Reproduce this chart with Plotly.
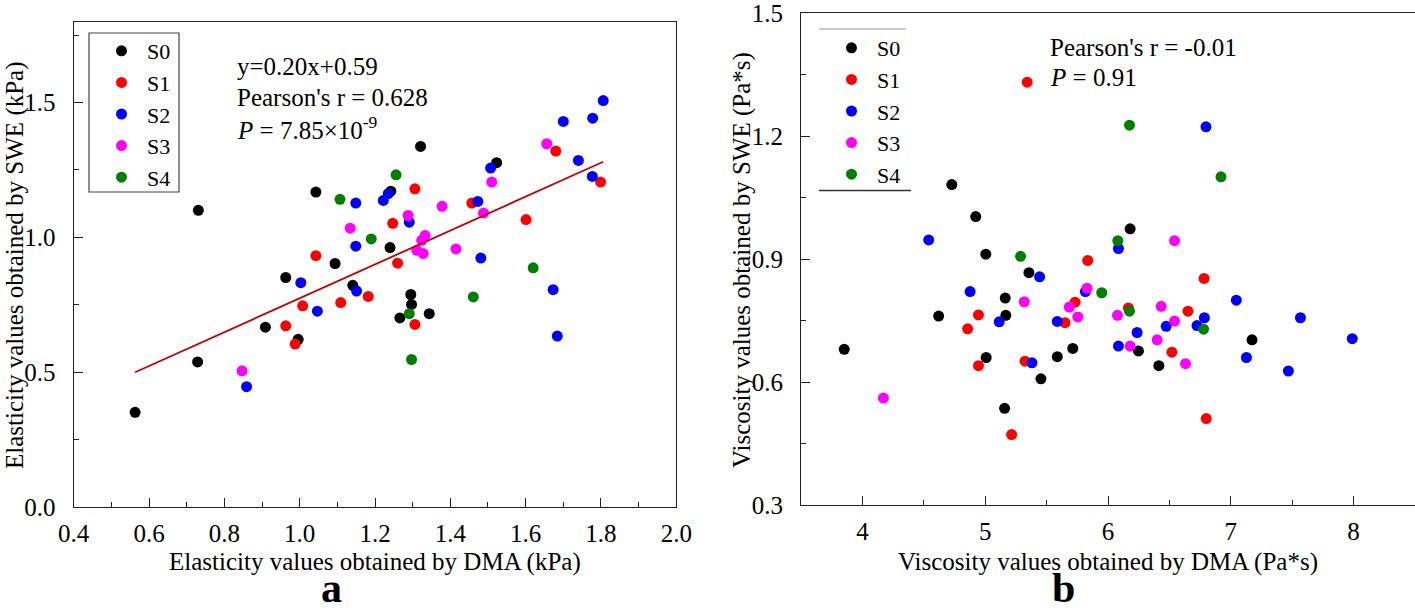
import numpy as np
import plotly.graph_objects as go

W, H = 1415, 610
FONT = "Liberation Serif"

series = ["S0", "S1", "S2", "S3", "S4"]
colors = ["#000000", "#FF0000", "#0000FF", "#FF00FF", "#008000"]

# ---- Panel a: elasticity (kPa) ----
a_S0_x = [0.563, 0.729, 0.731, 0.909, 0.963, 0.996, 1.043, 1.094, 1.141, 1.240, 1.242, 1.266, 1.295, 1.297, 1.321, 1.344, 1.523]
a_S0_y = [0.351, 0.538, 1.100, 0.667, 0.851, 0.622, 1.168, 0.903, 0.822, 0.962, 1.171, 0.701, 0.788, 0.751, 1.337, 0.717, 1.277]
a_S1_x = [0.963, 0.988, 1.008, 1.043, 1.109, 1.182, 1.247, 1.260, 1.306, 1.306, 1.457, 1.601, 1.680, 1.799]
a_S1_y = [0.672, 0.604, 0.746, 0.932, 0.758, 0.781, 1.052, 0.904, 1.180, 0.677, 1.127, 1.066, 1.320, 1.205]
a_S2_x = [0.859, 1.003, 1.047, 1.149, 1.149, 1.151, 1.222, 1.235, 1.291, 1.473, 1.481, 1.507, 1.673, 1.684, 1.700, 1.740, 1.777, 1.778, 1.806]
a_S2_y = [0.446, 0.832, 0.726, 0.967, 1.127, 0.801, 1.137, 1.162, 1.056, 1.133, 0.923, 1.257, 0.806, 0.634, 1.430, 1.285, 1.226, 1.442, 1.507]
a_S3_x = [0.847, 1.134, 1.288, 1.311, 1.324, 1.328, 1.333, 1.378, 1.415, 1.488, 1.510, 1.656]
a_S3_y = [0.505, 1.034, 1.081, 0.952, 0.989, 0.940, 1.007, 1.115, 0.957, 1.090, 1.205, 1.347]
a_S4_x = [1.107, 1.190, 1.256, 1.291, 1.297, 1.461, 1.620]
a_S4_y = [1.141, 0.994, 1.232, 0.717, 0.547, 0.779, 0.887]

fit_slope = 0.628
fit_intercept = 0.146

# ---- Panel b: viscosity (Pa*s) ----
b_S0_x = [3.852, 4.621, 4.728, 4.923, 5.005, 5.008, 5.158, 5.163, 5.168, 5.356, 5.454, 5.587, 5.713, 6.180, 6.248, 6.414, 7.173]
b_S0_y = [0.680, 0.761, 1.082, 1.004, 0.912, 0.660, 0.536, 0.805, 0.763, 0.867, 0.608, 0.662, 0.682, 0.974, 0.676, 0.640, 0.703]
b_S1_x = [4.857, 4.945, 4.945, 5.215, 5.324, 5.342, 5.650, 5.732, 5.835, 6.166, 6.520, 6.651, 6.782, 6.800]
b_S1_y = [0.730, 0.764, 0.640, 0.472, 0.651, 1.332, 0.745, 0.795, 0.897, 0.781, 0.673, 0.773, 0.853, 0.511]
b_S2_x = [4.540, 4.877, 5.114, 5.381, 5.443, 5.587, 5.816, 6.085, 6.085, 6.237, 6.474, 6.725, 6.785, 6.798, 7.045, 7.127, 7.469, 7.567, 7.989]
b_S2_y = [0.947, 0.821, 0.747, 0.647, 0.857, 0.748, 0.821, 0.926, 0.688, 0.721, 0.736, 0.738, 0.757, 1.223, 0.800, 0.660, 0.627, 0.757, 0.706]
b_S3_x = [4.171, 5.318, 5.685, 5.754, 5.829, 6.077, 6.180, 6.400, 6.433, 6.542, 6.542, 6.631]
b_S3_y = [0.561, 0.796, 0.783, 0.759, 0.829, 0.763, 0.688, 0.703, 0.785, 0.945, 0.749, 0.645]
b_S4_x = [5.288, 5.949, 6.080, 6.175, 6.175, 6.778, 6.920]
b_S4_y = [0.907, 0.818, 0.945, 1.227, 0.773, 0.729, 1.101]

a_x = [a_S0_x, a_S1_x, a_S2_x, a_S3_x, a_S4_x]
a_y = [a_S0_y, a_S1_y, a_S2_y, a_S3_y, a_S4_y]
b_x = [b_S0_x, b_S1_x, b_S2_x, b_S3_x, b_S4_x]
b_y = [b_S0_y, b_S1_y, b_S2_y, b_S3_y, b_S4_y]


def px(x):
    return x / W


def py(y):
    return 1 - y / H


fig = go.Figure()

for name, col, xs, ys in zip(series, colors, a_x, a_y):
    fig.add_trace(go.Scatter(x=xs, y=ys, mode="markers", name=name,
                             marker=dict(color=col, size=11),
                             xaxis="x", yaxis="y", legend="legend"))

all_ax = np.concatenate([np.array(v) for v in a_x])
line_x = np.array([all_ax.min(), all_ax.max()])
line_y = fit_slope * line_x + fit_intercept
fig.add_trace(go.Scatter(x=line_x, y=line_y, mode="lines", showlegend=False,
                         line=dict(color="#C00000", width=1.8),
                         xaxis="x", yaxis="y"))

for name, col, xs, ys in zip(series, colors, b_x, b_y):
    fig.add_trace(go.Scatter(x=xs, y=ys, mode="markers", name=name,
                             marker=dict(color=col, size=11),
                             xaxis="x2", yaxis="y2", legend="legend2"))

tickfont = dict(family=FONT, size=25, color="black")
common = dict(showgrid=False, zeroline=False, showline=True, linecolor="#222",
              linewidth=1.2, mirror=True, ticks="inside", tickcolor="#222",
              ticklen=9, tickwidth=1.2, tickfont=tickfont, automargin=False)

legfont = dict(family=FONT, size=22, color="black")

fig.update_layout(
    width=W, height=H,
    margin=dict(l=0, r=0, t=0, b=0, pad=0, autoexpand=False),
    paper_bgcolor="white", plot_bgcolor="white",
    font=dict(family=FONT, size=25, color="black"),
    xaxis=dict(domain=[px(73.7), px(676.3)], range=[0.4, 2.0], dtick=0.2,
               tickformat=".1f", minor=dict(dtick=0.1, ticks="inside", ticklen=5, tickcolor="#222"),
               anchor="y", ticklabelstandoff=4, **common),
    yaxis=dict(domain=[py(507), py(21.6)], range=[0, 1.8], tick0=0, dtick=0.5,
               tickformat=".1f", minor=dict(dtick=0.25, ticks="inside", ticklen=5, tickcolor="#222"),
               anchor="x", ticklabelstandoff=12, **common),
    xaxis2=dict(domain=[px(801), 1.0], range=[3.5, 8.5], dtick=1,
                minor=dict(dtick=0.5, ticks="inside", ticklen=5, tickcolor="#222"),
                anchor="y2", ticklabelstandoff=4, **common),
    yaxis2=dict(domain=[py(505), py(13.3)], range=[0.3, 1.5], tick0=0.3, dtick=0.3,
                tickformat=".1f", minor=dict(dtick=0.15, ticks="inside", ticklen=5, tickcolor="#222"),
                anchor="x2", ticklabelstandoff=12, **common),
    legend=dict(x=px(96), y=py(30), xanchor="left", yanchor="top",
                borderwidth=0, bgcolor="rgba(0,0,0,0)",
                font=legfont, itemwidth=41, tracegroupgap=0),
    legend2=dict(x=px(826), y=py(27), xanchor="left", yanchor="top",
                 borderwidth=0, bgcolor="rgba(0,0,0,0)",
                 font=legfont, itemwidth=41, tracegroupgap=0),
    showlegend=True,
)

ann = []
def add_text(text, x, y, size=25, xanchor="left", yanchor="middle", angle=0, bold=False):
    if bold:
        text = "<b>" + text + "</b>"
    ann.append(dict(text=text, x=px(x), y=py(y), xref="paper", yref="paper",
                    xanchor=xanchor, yanchor=yanchor, showarrow=False, textangle=angle,
                    font=dict(family=FONT, size=size, color="black")))

add_text("y=0.20x+0.59", 235, 67)
add_text("Pearson's r = 0.628", 235, 97)
add_text("<i>P</i> = 7.85×10<sup>-9</sup>", 235, 128)
add_text("Pearson's r = -0.01", 1048, 47)
add_text("<i>P</i> = 0.91", 1048, 78)

add_text("Elasticity values obtained by DMA (kPa)", 375, 562, xanchor="center")
add_text("Viscosity values obtained by DMA (Pa*s)", 1108, 562, xanchor="center")
add_text("Elasticity values obtained by SWE (kPa)", 15, 265, xanchor="center", angle=-90)
add_text("Viscosity values obtained by SWE (Pa*s)", 742, 260, xanchor="center", angle=-90)
add_text("a", 331, 588, size=42, xanchor="center", bold=True)
add_text("b", 1063, 588, size=42, xanchor="center", bold=True)

fig.update_layout(annotations=ann)

# frame of the legend in panel a
fig.add_shape(type="rect", xref="paper", yref="paper", x0=px(89), x1=px(179), y0=py(192), y1=py(33),
              line=dict(color="#444", width=1.2))
# partial frame of the legend in panel b
fig.add_shape(type="line", xref="paper", yref="paper", x0=px(819), x1=px(906), y0=py(29), y1=py(29),
              line=dict(color="#bbbbbb", width=1.5))
fig.add_shape(type="line", xref="paper", yref="paper", x0=px(819), x1=px(911), y0=py(190.5), y1=py(190.5),
              line=dict(color="#333", width=1.5))

fig.write_html("out.html", config={"displayModeBar": False},
               post_script="document.body.style.margin='0';document.body.style.overflow='hidden';")
